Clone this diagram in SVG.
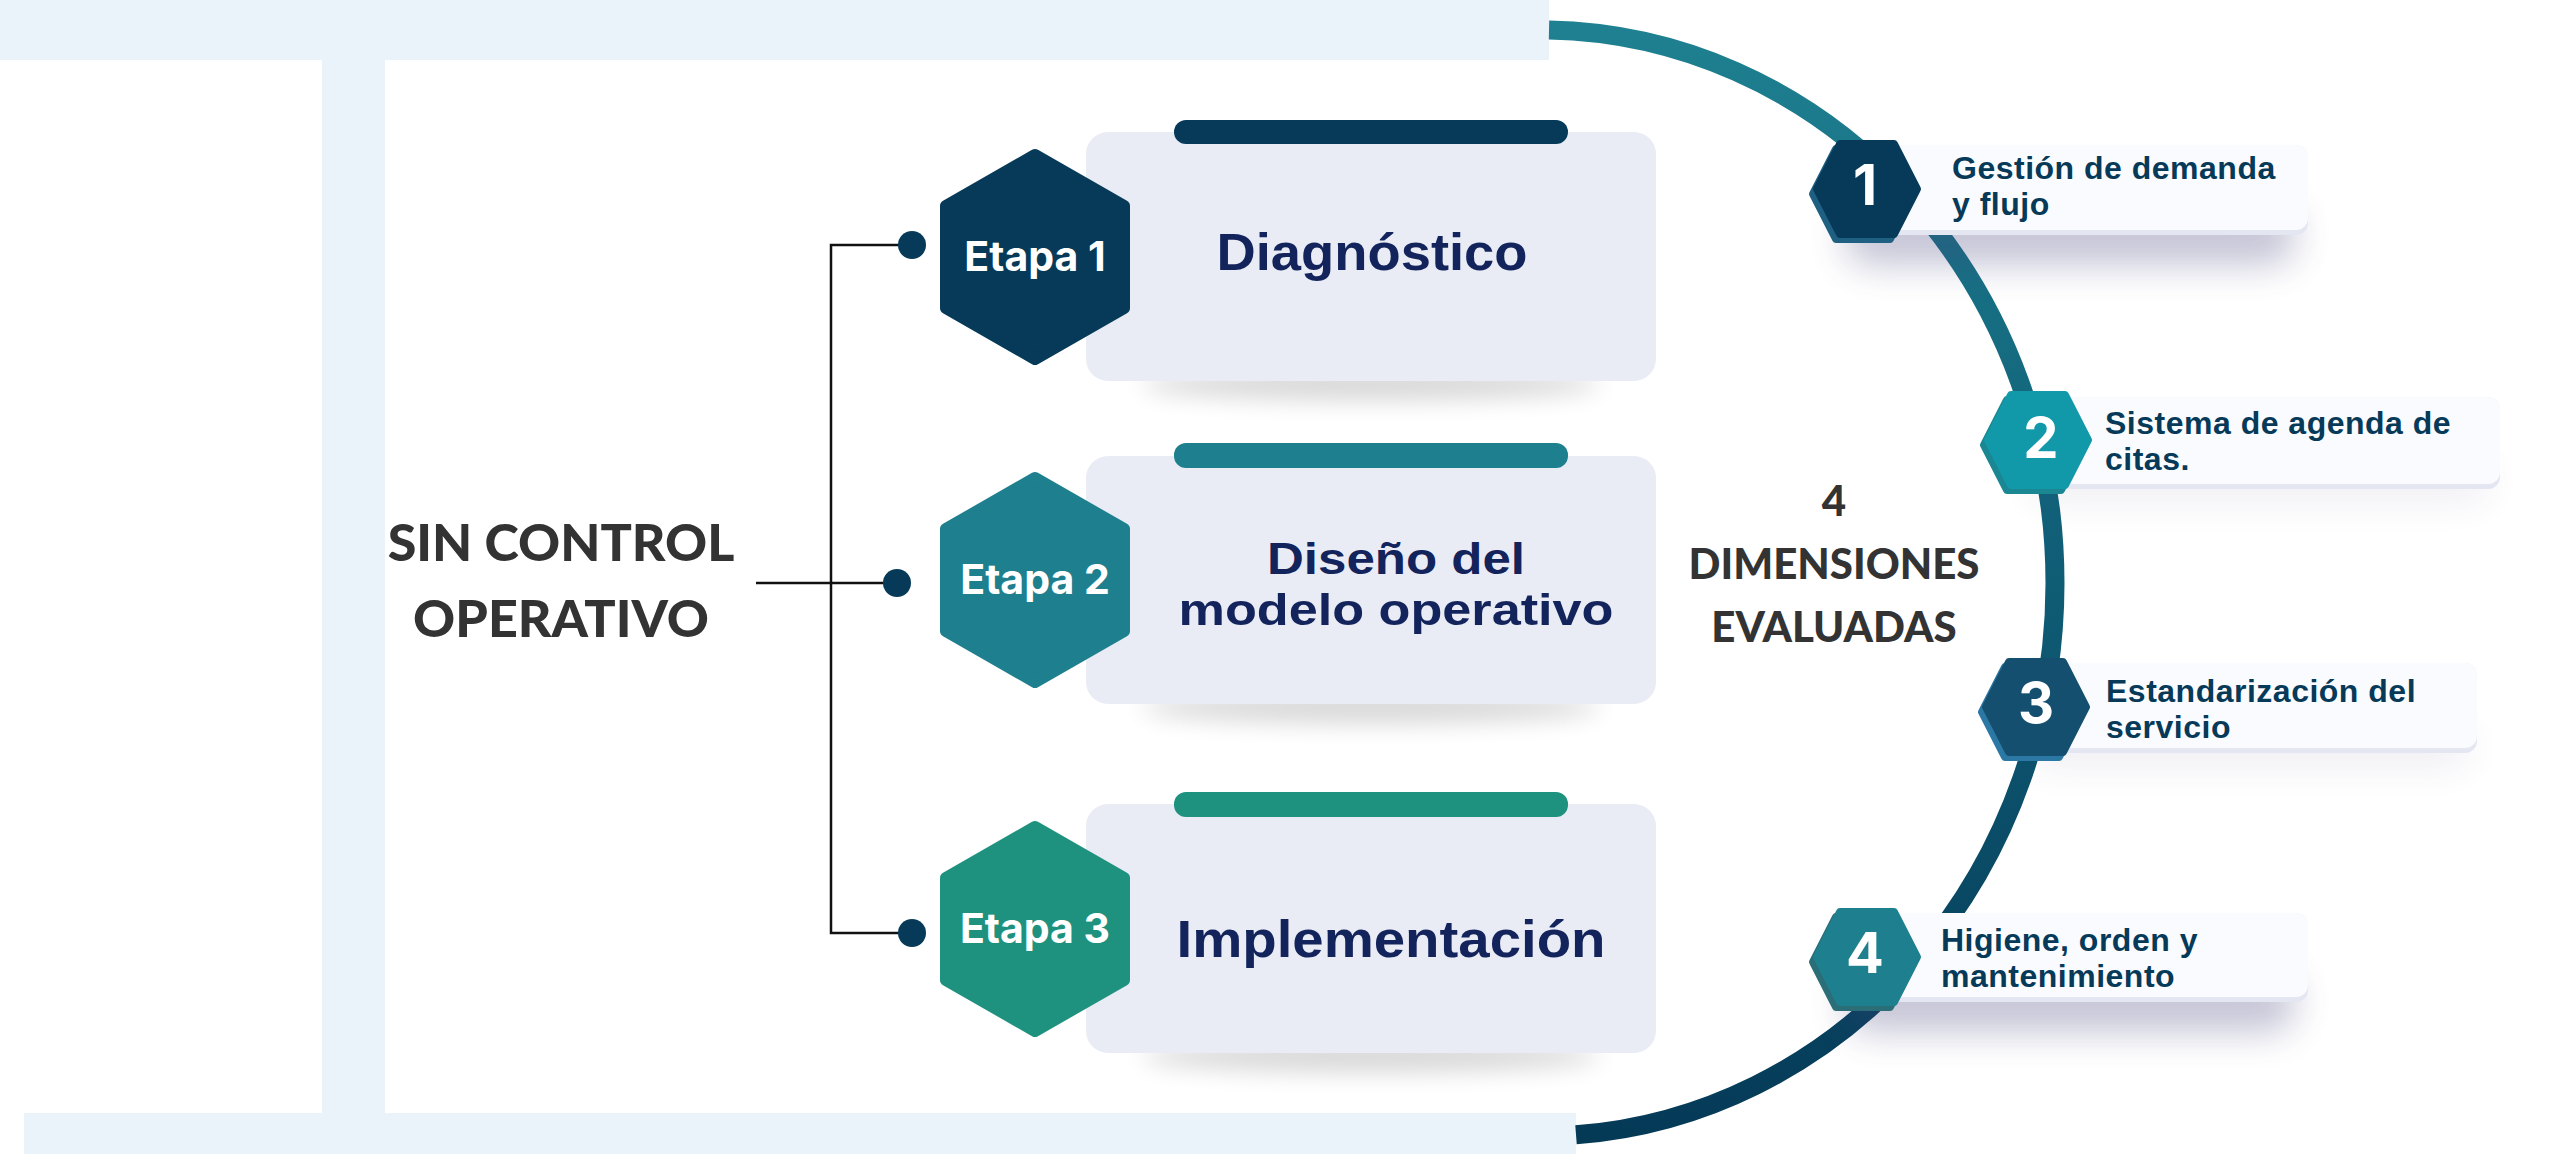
<svg xmlns="http://www.w3.org/2000/svg" width="2560" height="1156" viewBox="0 0 2560 1156">
<defs>
  <linearGradient id="arcGrad" x1="0" y1="0" x2="0" y2="1">
    <stop offset="0" stop-color="#1E8090"/>
    <stop offset="0.5" stop-color="#0F5C75"/>
    <stop offset="1" stop-color="#053A57"/>
  </linearGradient>
  <filter id="blurS" x="-30%" y="-100%" width="160%" height="300%">
    <feGaussianBlur stdDeviation="12"/>
  </filter>
  <filter id="blurD" x="-30%" y="-100%" width="160%" height="300%">
    <feGaussianBlur stdDeviation="18"/>
  </filter>
  <polygon id="hexE" points="0,-102 89,-51 89,51 0,102 -89,51 -89,-51"/>
  <polygon id="hexD" points="-27,-45 27,-45 50,0 27,45 -27,45 -50,0"/>
</defs>
<style>
  .band{fill:#EAF2FA}
  .card{fill:#E9ECF5}
  .cardShadow{fill:#000;opacity:0.16}
  .etapa{font-family:Inter,"Liberation Sans",sans-serif;font-weight:700;font-size:41px;fill:#FFFFFF;text-anchor:middle}
  .title{font-family:"Liberation Sans",Arial,sans-serif;font-weight:700;fill:#13235B;text-anchor:middle}
  .big{font-family:Lato,"Liberation Sans",sans-serif;font-weight:900;fill:#333333;text-anchor:middle}
  .dimTxt{font-family:"Liberation Sans",Arial,sans-serif;font-weight:700;font-size:32px;letter-spacing:0.5px;fill:#063A58}
  .num{font-family:Inter,"Liberation Sans",sans-serif;font-weight:700;font-size:56px;fill:#FFFFFF;text-anchor:middle}
  .dcard{fill:#FAFBFE}
  .dstrip{fill:#E4E6F1}
  .dshadow{fill:#3E3E78}
  .conn{stroke:#111111;stroke-width:2.5;fill:none}
  .dot{fill:#063A58}
  .hexRound{stroke-linejoin:round;stroke-width:12}
  .hexRoundD{stroke-linejoin:round;stroke-width:8}
</style>

<!-- background bands -->
<g id="frame">
  <rect class="band" x="0" y="0" width="1549" height="60"/>
  <rect class="band" x="322" y="60" width="63" height="1054"/>
  <rect class="band" x="24" y="1113" width="1552" height="41"/>
</g>

<!-- arc -->
<g id="arc">
  <path d="M 1549 30.1 A 515 553 0 0 1 2055 583 A 515 553 0 0 1 1576 1134.8" fill="none" stroke="url(#arcGrad)" stroke-width="19"/>
</g>

<!-- connectors -->
<g id="connectors">
  <polyline class="conn" points="912,245 831,245 831,933 912,933"/>
  <line class="conn" x1="756" y1="583" x2="897" y2="583"/>
  <circle class="dot" cx="912" cy="245" r="14"/>
  <circle class="dot" cx="897" cy="583" r="14"/>
  <circle class="dot" cx="912" cy="933" r="14"/>
</g>

<!-- left title -->
<g id="sin-control">
  <text class="big" x="561" y="561" font-size="52">SIN CONTROL</text>
  <text class="big" x="561" y="637" font-size="52">OPERATIVO</text>
</g>

<!-- Etapa 1 -->
<g id="etapa1">
  <ellipse class="cardShadow" cx="1371" cy="384" rx="230" ry="16" filter="url(#blurS)"/>
  <rect class="card" x="1086" y="132" width="570" height="249" rx="22"/>
  <rect x="1174" y="120" width="394" height="24" rx="12" fill="#063A58"/>
  <use href="#hexE" x="1035" y="257" fill="#063A58" stroke="#063A58" class="hexRound"/>
  <text class="etapa" x="1035" y="271">Etapa 1</text>
  <text class="title" x="1372" y="270" font-size="52" textLength="311" lengthAdjust="spacingAndGlyphs">Diagnóstico</text>
</g>

<!-- Etapa 2 -->
<g id="etapa2">
  <ellipse class="cardShadow" cx="1371" cy="707" rx="230" ry="16" filter="url(#blurS)"/>
  <rect class="card" x="1086" y="456" width="570" height="248" rx="22"/>
  <rect x="1174" y="443" width="394" height="25" rx="12" fill="#1E7F8E"/>
  <use href="#hexE" x="1035" y="580" fill="#1E7F8E" stroke="#1E7F8E" class="hexRound"/>
  <text class="etapa" x="1035" y="594">Etapa 2</text>
  <text class="title" x="1396" y="574" font-size="45" textLength="258" lengthAdjust="spacingAndGlyphs">Diseño del</text>
  <text class="title" x="1396" y="625" font-size="45" textLength="435" lengthAdjust="spacingAndGlyphs">modelo operativo</text>
</g>

<!-- Etapa 3 -->
<g id="etapa3">
  <ellipse class="cardShadow" cx="1371" cy="1056" rx="230" ry="16" filter="url(#blurS)"/>
  <rect class="card" x="1086" y="804" width="570" height="249" rx="22"/>
  <rect x="1174" y="792" width="394" height="25" rx="12" fill="#1E927F"/>
  <use href="#hexE" x="1035" y="929" fill="#1E927F" stroke="#1E927F" class="hexRound"/>
  <text class="etapa" x="1035" y="943">Etapa 3</text>
  <text class="title" x="1391" y="957" font-size="52" textLength="429" lengthAdjust="spacingAndGlyphs">Implementación</text>
</g>

<!-- center label -->
<g id="dimensiones">
  <text class="big" x="1834" y="516" font-size="42">4</text>
  <text class="big" x="1834" y="579" font-size="42">DIMENSIONES</text>
  <text class="big" x="1834" y="642" font-size="42">EVALUADAS</text>
</g>

<!-- Dimension 1 -->
<g id="dim1">
  <rect class="dshadow" x="1845" y="205" width="450" height="60" rx="25" filter="url(#blurD)" opacity="0.3"/>
  <rect class="dstrip" x="1879" y="145" width="429" height="90" rx="12"/>
  <rect class="dcard" x="1879" y="145" width="429" height="85" rx="12"/>
  <use href="#hexD" x="1863" y="194" fill="#1E5F82" stroke="#1E5F82" class="hexRoundD"/>
  <use href="#hexD" x="1867" y="189" fill="#063A58" stroke="#063A58" class="hexRoundD"/>
  <text class="num" x="1865" y="205">1</text>
  <text class="dimTxt" x="1952" y="179">Gestión de demanda</text>
  <text class="dimTxt" x="1952" y="215">y flujo</text>
</g>

<!-- Dimension 2 -->
<g id="dim2">
  <rect class="dshadow" x="2030" y="462" width="460" height="40" rx="20" filter="url(#blurD)" opacity="0.08"/>
  <rect class="dstrip" x="2061" y="397" width="439" height="92" rx="12"/>
  <rect class="dcard" x="2061" y="397" width="439" height="87" rx="12"/>
  <use href="#hexD" x="2034" y="445" fill="#1A8793" stroke="#1A8793" class="hexRoundD"/>
  <use href="#hexD" x="2038" y="440" fill="#1199A9" stroke="#1199A9" class="hexRoundD"/>
  <text class="num" x="2041" y="458">2</text>
  <text class="dimTxt" x="2105" y="434">Sistema de agenda de</text>
  <text class="dimTxt" x="2105" y="470">citas.</text>
</g>

<!-- Dimension 3 -->
<g id="dim3">
  <rect class="dshadow" x="2030" y="728" width="440" height="40" rx="20" filter="url(#blurD)" opacity="0.08"/>
  <rect class="dstrip" x="2054" y="663" width="423" height="90" rx="12"/>
  <rect class="dcard" x="2054" y="663" width="423" height="85" rx="12"/>
  <use href="#hexD" x="2032" y="712" fill="#2C78A5" stroke="#2C78A5" class="hexRoundD"/>
  <use href="#hexD" x="2036" y="707" fill="#154F70" stroke="#154F70" class="hexRoundD"/>
  <text class="num" x="2036" y="723">3</text>
  <text class="dimTxt" x="2106" y="702">Estandarización del</text>
  <text class="dimTxt" x="2106" y="738">servicio</text>
</g>

<!-- Dimension 4 -->
<g id="dim4">
  <rect class="dshadow" x="1845" y="972" width="450" height="60" rx="25" filter="url(#blurD)" opacity="0.3"/>
  <rect class="dstrip" x="1879" y="913" width="429" height="89" rx="12"/>
  <rect class="dcard" x="1879" y="913" width="429" height="84" rx="12"/>
  <use href="#hexD" x="1863" y="962" fill="#2B6E78" stroke="#2B6E78" class="hexRoundD"/>
  <use href="#hexD" x="1867" y="957" fill="#1E7F8E" stroke="#1E7F8E" class="hexRoundD"/>
  <text class="num" x="1865" y="973">4</text>
  <text class="dimTxt" x="1941" y="951">Higiene, orden y</text>
  <text class="dimTxt" x="1941" y="987">mantenimiento</text>
</g>
</svg>
